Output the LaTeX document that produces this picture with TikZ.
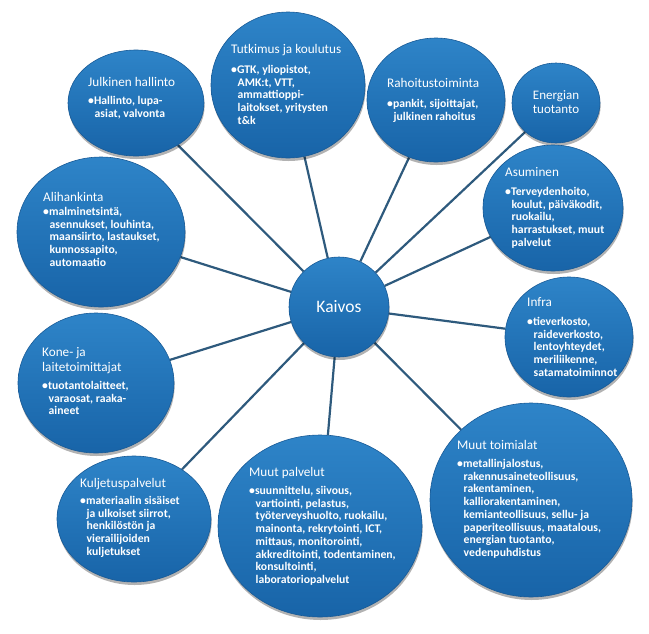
\documentclass[tikz,border=0pt]{standalone}
\usepackage{fontspec}
\setmainfont{Carlito}
\usetikzlibrary{shapes.geometric,shadows,backgrounds}
\definecolor{bubtop}{RGB}{46,132,200}
\definecolor{bubmid}{RGB}{30,114,184}
\definecolor{bubbot}{RGB}{24,100,168}
\definecolor{bubedge}{RGB}{24,90,150}
\definecolor{linkc}{RGB}{46,90,125}
\newcommand\ttlfont{\fontsize{13.2}{15}\selectfont}
\newcommand\blk[1]{{\fontsize{11.7}{12.7}\selectfont\bfseries\begin{tabular}[t]{@{}l@{}}#1\end{tabular}}}
\newcommand\ttl[1]{{\ttlfont\begin{tabular}[t]{@{}l@{}}#1\end{tabular}}}
\newcommand\bu{\textbullet}
\newcommand\ii{\hspace*{6.5pt}}
\tikzset{
  bubble/.style={ellipse, inner sep=0pt, top color=bubtop, middle color=bubmid, bottom color=bubbot,
    draw=bubedge, line width=0.6pt,
    drop shadow={shadow xshift=0.6pt, shadow yshift=-3pt, opacity=0.3, fill=black}},
  link/.style={draw=linkc, line width=2.2pt},
  txt/.style={anchor=base west, inner sep=0pt, text=white},
}
\begin{document}
\begin{tikzpicture}[x=1pt,y=-1pt]
\useasboundingbox (0,0) rectangle (649,633);
% bubbles
\node[bubble, minimum width=154pt, minimum height=146pt] (tut) at (288,85) {};
\node[bubble, minimum width=136pt, minimum height=106pt] (jul) at (136,103) {};
\node[bubble, minimum width=138pt, minimum height=124pt] (rah) at (436,100) {};
\node[bubble, minimum width=88pt, minimum height=80pt] (ene) at (556,103) {};
\node[bubble, minimum width=140pt, minimum height=126pt] (asu) at (553,208) {};
\node[bubble, minimum width=168pt, minimum height=150pt] (ali) at (101,232) {};
\node[bubble, minimum width=128pt, minimum height=120pt] (inf) at (569,337) {};
\node[bubble, minimum width=156pt, minimum height=140pt] (kon) at (96,383) {};
\node[bubble, minimum width=154pt, minimum height=126pt] (kul) at (134,519) {};
\node[bubble, minimum width=202pt, minimum height=194pt] (mto) at (531,500) {};
\node[bubble, minimum width=204pt, minimum height=182pt] (mpa) at (320,526) {};
\node[bubble, circle, minimum size=100pt, text=white, font=\fontsize{17.5}{20}\selectfont] (kai) at (339,307) {Kaivos};
% connectors
\begin{scope}[on background layer]
  \foreach \t in {tut,jul,rah,ene,asu,ali,inf,kon,kul,mto,mpa}
    \draw[link] (kai) -- (\t);
\end{scope}
% texts
\node[txt] (julT) at (88,86) {\ttl{Julkinen hallinto}};
\node[txt] (julB) at (88,104.5) {\blk{\bu Hallinto, lupa-\\\ii asiat, valvonta}};
\node[txt] (tutT) at (231,53) {\ttl{Tutkimus ja koulutus}};
\node[txt] (tutB) at (231,73.5) {\blk{\bu GTK, yliopistot,\\\ii AMK:t, VTT,\\\ii ammattioppi-\\\ii laitokset, yritysten\\\ii t\&k}};
\node[txt] (rahT) at (387,87) {\ttl{Rahoitustoiminta}};
\node[txt] (rahB) at (387,107.5) {\blk{\bu pankit, sijoittajat,\\\ii julkinen rahoitus}};
\node[inner sep=0pt, text=white, font=\fontsize{13}{14}\selectfont, align=center] (eneT) at (556,102) {Energian\\tuotanto};
\node[txt] (asuT) at (505,176) {\ttl{Asuminen}};
\node[txt] (asuB) at (505,195.5) {\blk{\bu Terveydenhoito,\\\ii koulut, päiväkodit,\\\ii ruokailu,\\\ii harrastukset, muut\\\ii palvelut}};
\node[txt] (aliT) at (43,201) {\ttl{Alihankinta}};
\node[txt] (aliB) at (43,215.5) {\blk{\bu malminetsintä,\\\ii asennukset, louhinta,\\\ii maansiirto, lastaukset,\\\ii kunnossapito,\\\ii automaatio}};
\node[txt] (infT) at (527,306) {\ttl{Infra}};
\node[txt] (infB) at (527,325.5) {\blk{\bu tieverkosto,\\\ii raideverkosto,\\\ii lentoyhteydet,\\\ii meriliikenne,\\\ii satamatoiminnot}};
\node[txt] (konT) at (42,356) {\ttl{Kone- ja\\laitetoimittajat}};
\node[txt] (konB) at (42,389.5) {\blk{\bu tuotantolaitteet,\\\ii varaosat, raaka-\\\ii aineet}};
\node[txt] (kulT) at (80,487) {\ttl{Kuljetuspalvelut}};
\node[txt] (kulB) at (80,504.5) {\blk{\bu materiaalin sisäiset\\\ii ja ulkoiset siirrot,\\\ii henkilöstön ja\\\ii vierailijoiden\\\ii kuljetukset}};
\node[txt] (mtoT) at (457,449) {\ttl{Muut toimialat}};
\node[txt] (mtoB) at (457,467.5) {\blk{\bu metallinjalostus,\\\ii rakennusaineteollisuus,\\\ii rakentaminen,\\\ii kalliorakentaminen,\\\ii kemianteollisuus, sellu- ja\\\ii paperiteollisuus, maatalous,\\\ii energian tuotanto,\\\ii vedenpuhdistus}};
\node[txt] (mpaT) at (249,476) {\ttl{Muut palvelut}};
\node[txt] (mpaB) at (249,494.5) {\blk{\bu suunnittelu, siivous,\\\ii vartiointi, pelastus,\\\ii työterveyshuolto, ruokailu,\\\ii mainonta, rekrytointi, ICT,\\\ii mittaus, monitorointi,\\\ii akkreditointi, todentaminen,\\\ii konsultointi,\\\ii laboratoriopalvelut}};
\end{tikzpicture}
\end{document}
